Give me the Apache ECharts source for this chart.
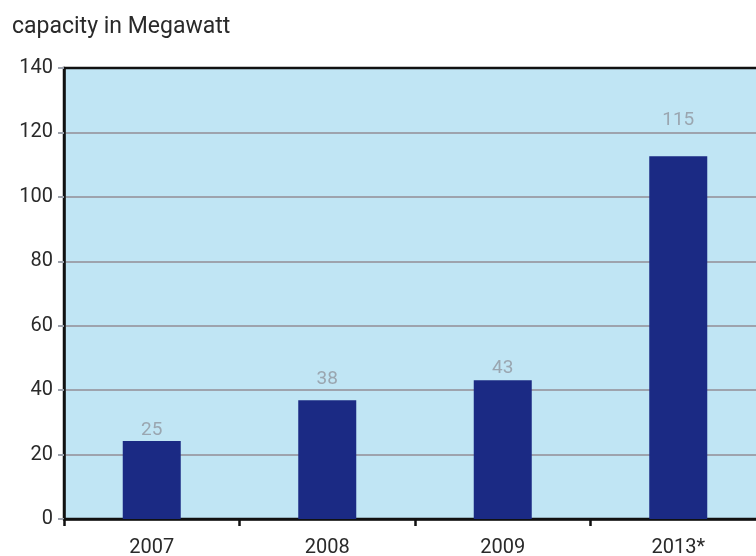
<!DOCTYPE html>
<html>
<head>
<meta charset="utf-8">
<script src="https://cdn.jsdelivr.net/npm/echarts@6/dist/echarts.min.js"></script>
<style>
  html, body { margin: 0; padding: 0; background: #fff; }
  #chart { width: 756px; height: 556px; }
</style>
</head>
<body>
<div id="chart"></div>
<script>
// categories and values
const years = ['2007', '2008', '2009', '2013*'];
const barValues = [24.2, 36.9, 43.1, 112.6];   // drawn bar heights
const valueLabels = ['25', '38', '43', '115']; // printed numbers
const labelGaps = [1, 11, 2, 27];              // label offset above bar (style only)

const chart = echarts.init(document.getElementById('chart'));

const option = {
  animation: false,
  textStyle: { fontFamily: 'Roboto' },
  title: {
    text: 'capacity in Megawatt',
    left: 7,
    top: 11,
    textStyle: { fontFamily: 'Roboto', fontSize: 23, fontWeight: 'normal', color: '#2a2a2a' }
  },
  grid: {
    show: true,
    left: 64,
    top: 68,
    width: 702,
    height: 451,
    outerBoundsMode: 'none',
    containLabel: false,
    backgroundColor: '#c0e5f4',
    borderColor: '#111',
    borderWidth: 2.5
  },
  xAxis: {
    type: 'category',
    data: years,
    axisLine: { lineStyle: { color: '#111', width: 2.5 } },
    axisTick: { show: true, length: 7, lineStyle: { color: '#111', width: 2.5 } },
    axisLabel: { color: '#2a2a2a', fontSize: 20, margin: 19 }
  },
  yAxis: {
    type: 'value',
    min: 0,
    max: 140,
    interval: 20,
    axisLine: { show: true, lineStyle: { color: '#111', width: 2.5 } },
    axisTick: { show: true, length: 6, lineStyle: { color: '#9ea3ad', width: 2 } },
    axisLabel: { color: '#2a2a2a', fontSize: 20, margin: 11 },
    splitLine: { showMinLine: false, showMaxLine: false, lineStyle: { color: '#9ea3ad', width: 2 } }
  },
  series: [{
    type: 'bar',
    barWidth: 58,
    itemStyle: { color: '#1b2a84' },
    data: barValues.map((v, i) => ({
      value: v,
      label: {
        show: true,
        position: 'top',
        distance: labelGaps[i],
        formatter: valueLabels[i],
        color: '#9aa6b0',
        fontSize: 19
      }
    }))
  }]
};

chart.setOption(option);
</script>
</body>
</html>
